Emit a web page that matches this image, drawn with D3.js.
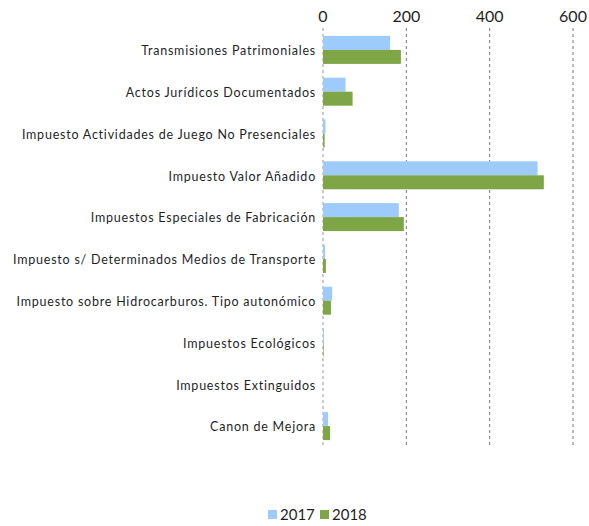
<!DOCTYPE html>
<html>
<head>
<meta charset="utf-8">
<script src="https://cdn.jsdelivr.net/npm/d3@7"></script>
<style>
  body { margin: 0; background: #fff; }
  svg text { font-family: Lato, "Open Sans", sans-serif; fill: #1f1f1f; }
  .cat { font-size: 12.5px; letter-spacing: 0.77px; }
  .tick-lbl { font-size: 16px; }
  .leg { font-size: 15px; }
</style>
</head>
<body>
<div id="chart"></div>
<script>
//data
const categories = [
  'Transmisiones Patrimoniales',
  'Actos Jurídicos Documentados',
  'Impuesto Actividades de Juego No Presenciales',
  'Impuesto Valor Añadido',
  'Impuestos Especiales de Fabricación',
  'Impuesto s/ Determinados Medios de Transporte',
  'Impuesto sobre Hidrocarburos. Tipo autonómico',
  'Impuestos Ecológicos',
  'Impuestos Extinguidos',
  'Canon de Mejora'
]
const series = ['2017', '2018']
const values2017 = [161, 54, 6, 515, 182, 5, 22, 2, 0, 12]
const values2018 = [187, 71, 4, 530, 194, 7, 19, 1.5, 0, 17]
const ticks = [0, 200, 400, 600]
const colors = ['#9dcbfc', '#7ea646']

//layout
const
  width = 589,
  height = 526,
  plotLeft = 323,
  plotRight = 573,
  plotTop = 29,
  plotBottom = 447

const x = d3.scaleLinear().domain([0, 600]).range([plotLeft, plotRight])
const y = d3.scaleBand().domain(categories).range([plotTop, plotBottom]).paddingInner(0.33).paddingOuter(0.165)
const sub = d3.scaleBand().domain(series).range([0, y.bandwidth()])

const svg = d3.select('#chart')
  .append('svg')
  .attr('width', width)
  .attr('height', height)

//grid
svg.selectAll('.grid')
  .data(ticks)
  .enter()
  .append('line')
  .attr('x1', d => x(d)).attr('x2', d => x(d))
  .attr('y1', plotTop - 1).attr('y2', plotBottom)
  .attr('stroke', d => d === 0 ? '#bbb' : '#777')
  .attr('stroke-width', d => d === 0 ? 1.5 : 1)
  .attr('stroke-dasharray', '3,3')

//top axis labels
svg.selectAll('.tick-lbl')
  .data(ticks)
  .enter()
  .append('text')
  .attr('class', 'tick-lbl')
  .attr('x', d => x(d))
  .attr('y', 22)
  .attr('text-anchor', 'middle')
  .text(d => d)

//bars
const data = categories.map((c, i) => ({ cat: c, vals: [values2017[i], values2018[i]] }))
const group = svg.selectAll('.group')
  .data(data)
  .enter()
  .append('g')
  .attr('transform', d => 'translate(0,' + y(d.cat) + ')')

group.selectAll('rect')
  .data(d => d.vals.map((v, i) => ({ key: series[i], v: v, i: i })))
  .enter()
  .append('rect')
  .attr('x', x(0))
  .attr('y', d => sub(d.key))
  .attr('width', d => x(d.v) - x(0))
  .attr('height', sub.bandwidth())
  .attr('fill', d => colors[d.i])

//category labels
svg.selectAll('.cat')
  .data(categories)
  .enter()
  .append('text')
  .attr('class', 'cat')
  .attr('x', 316)
  .attr('y', d => y(d) + y.bandwidth() / 2)
  .attr('dy', '0.42em')
  .attr('text-anchor', 'end')
  .text(d => d)

//legend
const legend = svg.selectAll('.leg-item')
  .data(series)
  .enter()
  .append('g')
  .attr('transform', (d, i) => 'translate(' + (268 + i * 52) + ',510)')
legend.append('rect')
  .attr('width', 9).attr('height', 9)
  .attr('fill', (d, i) => colors[i])
legend.append('text')
  .attr('class', 'leg')
  .attr('x', 12)
  .attr('y', 10)
  .text(d => d)
</script>
</body>
</html>
